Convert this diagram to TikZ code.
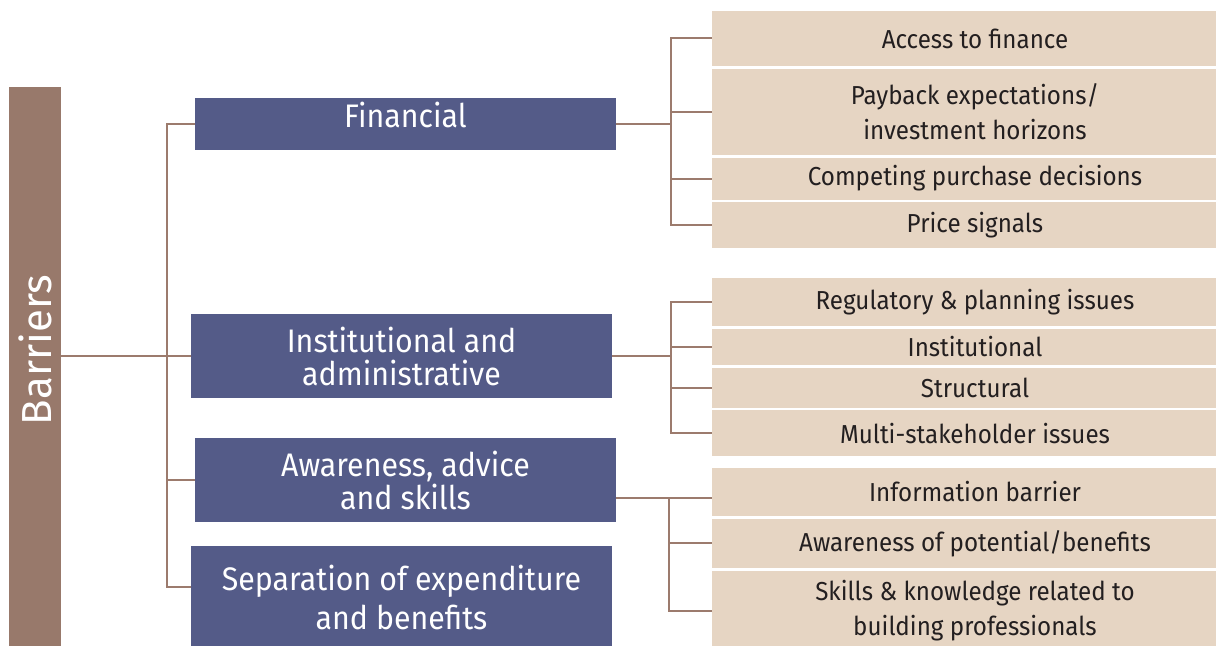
\documentclass[tikz,border=0pt]{standalone}
\usepackage{fontspec}
\setmainfont{Fira Sans}[FakeStretch=0.93]
\newfontfamily\barfont{Fira Sans}
\usetikzlibrary{positioning}
\definecolor{barbrown}{RGB}{152,121,107}
\definecolor{catblue}{RGB}{84,91,136}
\definecolor{itembeige}{RGB}{230,213,195}
\definecolor{linkbrown}{RGB}{156,123,109}
\definecolor{itemtext}{RGB}{35,31,32}
\tikzstyle{cat}=[fill=catblue, text=white, rectangle, minimum width=210.5pt, align=center, inner sep=0pt, font=\fontsize{16.3}{16.5}\selectfont]
\tikzstyle{item}=[fill=itembeige, text=itemtext, rectangle, minimum width=263pt, align=center, inner sep=0pt, font=\fontsize{13}{17.5}\selectfont]
\tikzstyle{link}=[draw=linkbrown, line width=1pt]

\begin{document}
\begin{tikzpicture}[x=0.5pt, y=-0.5pt, node distance=1pt]
\clip (0,0) rectangle (1216,646);
% left bar
\node[fill=barbrown, minimum width=26pt, minimum height=280.5pt, inner sep=0pt] (bar) at (35,367.5) {};
\node[rotate=90, text=white, font=\barfont\fontsize{21}{21}\selectfont] (barlabel) at (35,350) {Barriers};

% categories
\node[cat, minimum height=26pt, text height=12pt, text depth=8pt] (fin) at (405.5,124) {Financial};
\node[cat, minimum height=42pt] (inst) at (401.5,356) {Institutional and\\administrative};
\node[cat, minimum height=42pt] (aware) at (405.5,480) {Awareness, advice\\and skills};
\node[cat, minimum height=51pt] (sep) at (401.5,597) {Separation of expenditure\\[3pt]and benefits};

% financial items
\node[item, minimum height=27.5pt] (access) at (975,38.5) {Access to finance};
\node[item, minimum height=43pt, below=of access] (payback) {Payback expectations/\\investment horizons};
\node[item, minimum height=21pt, below=of payback] (competing) {Competing purchase decisions};
\node[item, minimum height=23pt, below=of competing] (price) {Price signals};

% institutional items
\node[item, minimum height=24pt] (regulatory) at (975,302) {Regulatory \& planning issues};
\node[item, minimum height=18pt, below=of regulatory] (institutional) {Institutional};
\node[item, minimum height=20pt, below=of institutional] (structural) {Structural};
\node[item, minimum height=23pt, below=of structural] (multi) {Multi-stakeholder issues};

% awareness items
\node[item, minimum height=24pt] (information) at (975,492) {Information barrier};
\node[item, minimum height=24.5pt, below=of information] (potential) {Awareness of potential/benefits};
\node[item, minimum height=40.5pt, below=of potential] (skills) {Skills \& knowledge related to\\building professionals};

% left tree
\coordinate (trunk) at (167,0);
\coordinate (sepin) at ([yshift=5pt]sep.west);
\draw[link] (bar.east |- inst.west) -- (inst.west);
\draw[link] (fin.west) -| (trunk |- sepin) -- (sepin);
\draw[link] (aware.west) -- (aware.west -| trunk);

% right trees
\coordinate (fork) at (671,0);
\coordinate (forkb) at (669,0);
\coordinate (awareout) at ([yshift=-9pt]aware.east);
\draw[link] (fin.east) -- (fin.east -| fork);
\draw[link] (access.west) -| (fork |- price.west) -- (price.west);
\foreach \n in {payback, competing} \draw[link] (\n.west) -- (\n.west -| fork);
\draw[link] (inst.east) -- (inst.east -| fork);
\draw[link] (regulatory.west) -| (fork |- multi.west) -- (multi.west);
\foreach \n in {institutional, structural} \draw[link] (\n.west) -- (\n.west -| fork);
\draw[link] (awareout) -- (awareout -| information.west);
\draw[link] (forkb |- awareout) -- (forkb |- skills.west) -- (skills.west);
\draw[link] (potential.west) -- (potential.west -| forkb);
\end{tikzpicture}
\end{document}
